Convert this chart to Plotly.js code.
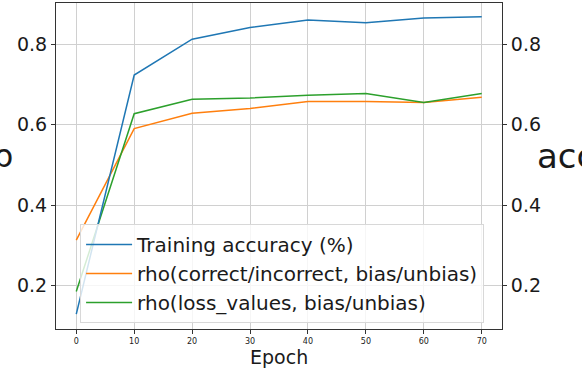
<!DOCTYPE html>
<html>
<head>
<meta charset="utf-8">
<script src="https://cdn.plot.ly/plotly-3.0.1.min.js"></script>
<style>
  html, body { margin: 0; padding: 0; background: white; }
  #chart { width: 582px; height: 368px; }
</style>
</head>
<body>
<div id="chart"></div>
<script>
// values
const epochs = [0, 10, 20, 30, 40, 50, 60, 70];
const trainingAccuracy = [0.129, 0.723, 0.812, 0.841, 0.860, 0.853, 0.865, 0.868];
const rhoCorrect = [0.313, 0.590, 0.628, 0.640, 0.657, 0.657, 0.655, 0.668];
const rhoLoss = [0.185, 0.627, 0.663, 0.666, 0.673, 0.677, 0.655, 0.677];
const yTicks = [0.2, 0.4, 0.6, 0.8];
const xTicks = [0, 10, 20, 30, 40, 50, 60, 70];

const font = 'DejaVu Sans, sans-serif';
const gridColor = '#d0d0d0';
const frameColor = '#333333';

const traces = [
    {
        x: epochs, y: trainingAccuracy, yaxis: 'y2',
        type: 'scatter', mode: 'lines',
        line: { color: '#1f77b4', width: 1.5 },
        name: 'Training accuracy (%)'
    },
    {
        x: epochs, y: rhoCorrect,
        type: 'scatter', mode: 'lines',
        line: { color: '#ff7f0e', width: 1.5 },
        name: 'rho(correct/incorrect, bias/unbias)'
    },
    {
        x: epochs, y: rhoLoss,
        type: 'scatter', mode: 'lines',
        line: { color: '#2ca02c', width: 1.5 },
        name: 'rho(loss_values, bias/unbias)'
    }
];

const yRange = [0.092, 0.902];

const layout = {
    width: 582,
    height: 368,
    margin: { l: 56, r: 80, t: 3, b: 39 },
    paper_bgcolor: 'white',
    plot_bgcolor: 'white',
    font: { family: font, color: '#1a1a1a' },
    showlegend: true,
    legend: {
        x: 0.054, y: 0.322, xanchor: 'left', yanchor: 'top',
        bgcolor: 'rgba(255,255,255,0.8)',
        bordercolor: '#d8d8d8', borderwidth: 1,
        font: { family: font, size: 20, color: '#1a1a1a' },
        itemwidth: 46,
        tracegroupgap: 0
    },
    xaxis: {
        range: [-3.5, 73.5],
        tickvals: xTicks,
        ticktext: xTicks.map(String),
        tickfont: { family: font, size: 8 },
        ticks: 'outside', ticklen: 4, tickcolor: frameColor,
        showgrid: true, gridcolor: gridColor, gridwidth: 1,
        zeroline: false,
        showline: true, linecolor: frameColor, linewidth: 1, mirror: true
    },
    yaxis: {
        range: yRange,
        tickvals: yTicks,
        ticktext: yTicks.map(v => v.toFixed(1)),
        tickfont: { family: font, size: 19 },
        ticks: 'outside', ticklen: 4, tickcolor: frameColor,
        showgrid: true, gridcolor: gridColor, gridwidth: 1,
        zeroline: false,
        showline: true, linecolor: frameColor, linewidth: 1, mirror: true
    },
    yaxis2: {
        range: yRange,
        overlaying: 'y',
        side: 'right',
        tickvals: yTicks,
        ticktext: yTicks.map(v => v.toFixed(1)),
        tickfont: { family: font, size: 19 },
        ticks: 'outside', ticklen: 4, tickcolor: frameColor,
        showgrid: true, gridcolor: gridColor,
        zeroline: false,
        showline: true, linecolor: frameColor, linewidth: 1
    },
    annotations: [
        {
            text: 'Epoch', xref: 'paper', yref: 'paper',
            x: 0.5, y: -0.086, xanchor: 'center', yanchor: 'middle',
            showarrow: false, font: { family: font, size: 19 }
        },
        {
            text: 'ρ', xref: 'paper', yref: 'paper',
            x: -0.092, y: 0.53, xanchor: 'right', yanchor: 'middle',
            showarrow: false, font: { family: font, size: 32 }
        },
        {
            text: 'acc', xref: 'paper', yref: 'paper',
            x: 1.074, y: 0.53, xanchor: 'left', yanchor: 'middle',
            showarrow: false, font: { family: font, size: 34 }
        }
    ]
};

Plotly.newPlot('chart', traces, layout, { displayModeBar: false, staticPlot: true });
</script>
</body>
</html>
